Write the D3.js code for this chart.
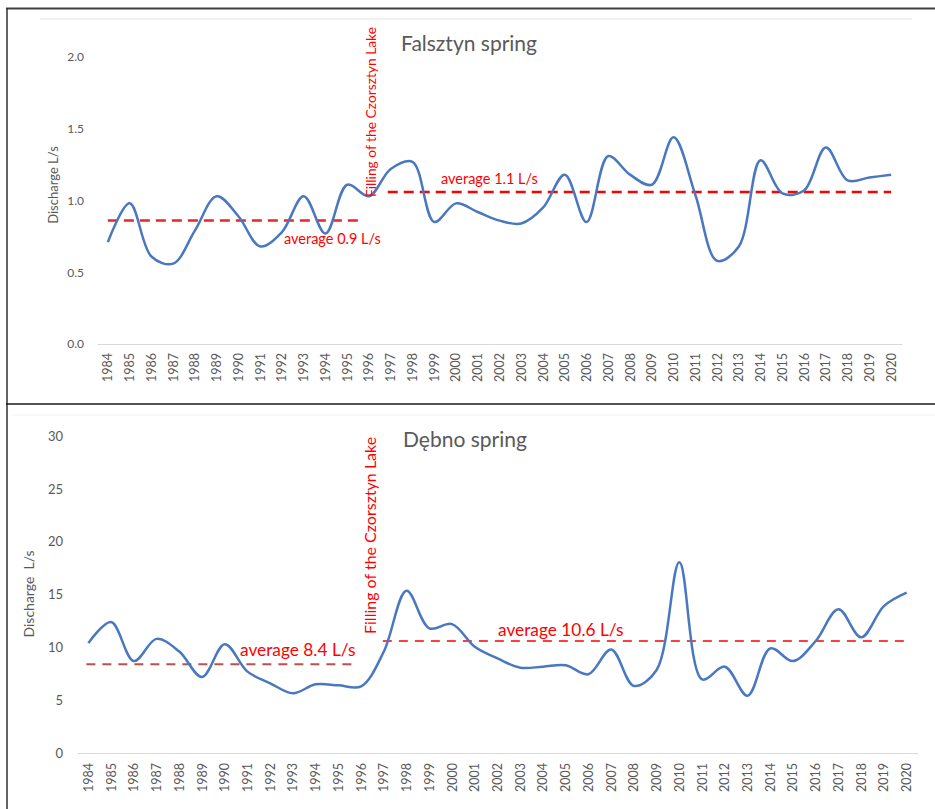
<!DOCTYPE html>
<html>
<head>
<meta charset="utf-8">
<script src="https://cdn.jsdelivr.net/npm/d3@7"></script>
<style>
  html, body { margin: 0; padding: 0; background: #fff; }
  svg { display: block; font-family: Lato, "Open Sans", sans-serif; }
</style>
</head>
<body>
<svg id="chart" width="935" height="809"></svg>
<script>
// Years of observation
const years = d3.range(1984, 2021).map(String);

// Falsztyn spring discharge, L/s
const falsztynValues = [
  0.71, 0.98, 0.61, 0.56, 0.79, 1.03, 0.89, 0.68, 0.78, 1.03,
  0.77, 1.11, 1.03, 1.22, 1.27, 0.85, 0.98, 0.92, 0.86, 0.84,
  0.95, 1.18, 0.85, 1.31, 1.18, 1.11, 1.44, 1.04, 0.58, 0.68,
  1.28, 1.05, 1.07, 1.37, 1.14, 1.16, 1.18
];

// Dębno spring discharge, L/s
const debnoValues = [
  10.4, 12.4, 8.7, 10.8, 9.6, 7.2, 10.3, 7.7, 6.6, 5.65,
  6.5, 6.4, 6.3, 9.6, 15.35, 11.8, 12.2, 10.05, 8.95, 8.07,
  8.17, 8.3, 7.45, 9.8, 6.35, 7.85, 18.05, 6.97, 8.17, 5.42,
  9.9, 8.7, 10.6, 13.6, 10.95, 13.9, 15.17
];

// Mean discharge before and after the reservoir was filled
const falsztynAverages = [0.86, 1.06];
const debnoAverages = [8.4, 10.6];

// Axis ticks
const falsztynTicks = [0, 0.5, 1.0, 1.5, 2.0];
const debnoTicks = [0, 5, 10, 15, 20, 25, 30];

const firstPeriodEnd = "1996";
const secondPeriodStart = "1997";
const eventLabel = "Filling of the Czorsztyn Lake";

const svg = d3.select("#chart");
const grey = "#595959";
const red = "#ff0000";
const blue = "#4a78c0";

// Panel frames
svg.append("line").attr("x1", 6).attr("x2", 935).attr("y1", 8.5).attr("y2", 8.5)
  .attr("stroke", "#404040").attr("stroke-width", 2);
svg.append("line").attr("x1", 7).attr("x2", 7).attr("y1", 8).attr("y2", 809)
  .attr("stroke", "#303030").attr("stroke-width", 1.5);
svg.append("line").attr("x1", 6).attr("x2", 935).attr("y1", 404).attr("y2", 404)
  .attr("stroke", "#1a1a1a").attr("stroke-width", 1.5);

function drawPanel(cfg) {
  const g = svg.append("g");

  const x = d3.scaleBand().domain(years).range(cfg.xRange);
  const cx = d => x(d) + x.bandwidth() / 2;
  const y = d3.scaleLinear().domain(cfg.yDomain).range(cfg.yRange);

  // chart-area top edge
  g.append("line")
    .attr("x1", cfg.topLine[0]).attr("x2", cfg.topLine[1])
    .attr("y1", cfg.topLine[2]).attr("y2", cfg.topLine[2])
    .attr("stroke", cfg.topLine[3]).attr("stroke-width", 1);

  // y axis (labels only)
  const yAxis = d3.axisLeft(y).tickValues(cfg.ticks).tickFormat(cfg.tickFormat)
    .tickSize(0).tickPadding(0);
  const ya = g.append("g").attr("transform", `translate(${cfg.yLabelX},0)`).call(yAxis);
  ya.select(".domain").remove();
  ya.selectAll("text").attr("fill", grey).attr("font-size", cfg.yTickSize)
    .attr("font-family", "Lato, sans-serif");

  // x axis
  const xAxis = d3.axisBottom(x).tickSize(0).tickPadding(0);
  const xa = g.append("g").attr("transform", `translate(0,${y(0)})`).call(xAxis);
  xa.select(".domain").attr("stroke", "#d9d9d9").attr("stroke-width", 1);
  xa.selectAll("text")
    .attr("fill", grey).attr("font-size", cfg.xTickSize)
    .attr("font-family", "Lato, sans-serif")
    .attr("text-anchor", "end")
    .attr("dy", null).attr("y", 0)
    .attr("transform", `translate(0,${cfg.xLabelGap}) rotate(-90)`)
    .attr("dominant-baseline", "central");

  // averages
  const [avgBefore, avgAfter] = cfg.averages;
  g.append("line")
    .attr("x1", cx(years[0]) - cfg.leftDashPad).attr("x2", cx(firstPeriodEnd) - cfg.leftDashTrim)
    .attr("y1", y(avgBefore)).attr("y2", y(avgBefore))
    .attr("stroke", cfg.leftDashColor).attr("stroke-width", cfg.leftDashWidth)
    .attr("stroke-dasharray", cfg.dash);
  g.append("line")
    .attr("x1", cx(secondPeriodStart) - cfg.rightDashPad).attr("x2", cx(years[years.length - 1]))
    .attr("y1", y(avgAfter)).attr("y2", y(avgAfter))
    .attr("stroke", red).attr("stroke-width", cfg.rightDashWidth)
    .attr("stroke-dasharray", cfg.dash);

  // discharge curve
  const line = d3.line()
    .x((d, i) => cx(years[i]))
    .y(d => y(d))
    .curve(d3.curveCatmullRom.alpha(0.5));
  g.append("path").datum(cfg.values)
    .attr("d", line).attr("fill", "none")
    .attr("stroke", blue).attr("stroke-width", 2.5)
    .attr("stroke-linejoin", "round");

  // average labels
  const fmt = d3.format(".1f");
  g.append("text")
    .attr("x", cfg.leftLabel[0]).attr("y", cfg.leftLabel[1])
    .attr("fill", red).attr("font-size", cfg.avgSize)
    .text(`average ${fmt(avgBefore)} L/s`);
  g.append("text")
    .attr("x", cfg.rightLabel[0]).attr("y", cfg.rightLabel[1])
    .attr("fill", red).attr("font-size", cfg.avgSize)
    .text(`average ${fmt(avgAfter)} L/s`);

  // event marker text
  g.append("text")
    .attr("transform", `translate(${cfg.eventPos[0]},${cfg.eventPos[1]}) rotate(-90)`)
    .attr("fill", red).attr("font-size", cfg.eventSize)
    .text(eventLabel);

  // title
  g.append("text")
    .attr("x", cfg.titlePos[0]).attr("y", cfg.titlePos[1])
    .attr("fill", grey).attr("font-size", cfg.titleSize)
    .text(cfg.title);

  // y axis title
  g.append("text")
    .attr("transform", `translate(${cfg.yTitlePos[0]},${cfg.yTitlePos[1]}) rotate(-90)`)
    .attr("text-anchor", "middle")
    .attr("fill", grey).attr("font-size", cfg.yTitleSize)
    .attr("xml:space", "preserve")
    .text(cfg.yTitle);
}

drawPanel({
  title: "Falsztyn spring",
  values: falsztynValues,
  averages: falsztynAverages,
  ticks: falsztynTicks,
  tickFormat: d3.format(".1f"),
  xRange: [97, 902],
  yDomain: [0, 2.0],
  yRange: [344, 57],
  topLine: [40, 912, 19, "#e3e3e3"],
  yLabelX: 84,
  yTickSize: 12,
  xTickSize: 12.5,
  xLabelGap: 9,
  leftDashPad: 0, leftDashTrim: 7, rightDashPad: 3,
  leftDashColor: "#e8262a", leftDashWidth: 2.5, rightDashWidth: 2.5,
  dash: "10,6",
  leftLabel: [284, 244], rightLabel: [441, 184],
  avgSize: 14.5,
  eventPos: [376, 197], eventSize: 13.8,
  titlePos: [401, 51], titleSize: 21,
  yTitle: "Discharge L/s", yTitlePos: [58, 185], yTitleSize: 13
});

drawPanel({
  title: "Dębno spring",
  values: debnoValues,
  averages: debnoAverages,
  ticks: debnoTicks,
  tickFormat: d3.format("d"),
  xRange: [77, 918],
  yDomain: [0, 30],
  yRange: [753, 436],
  topLine: [12, 935, 415, "#f3f3f3"],
  yLabelX: 63,
  yTickSize: 13,
  xTickSize: 12.5,
  xLabelGap: 10,
  leftDashPad: 2, leftDashTrim: 3, rightDashPad: 1,
  leftDashColor: "#c0504d", leftDashWidth: 2, rightDashWidth: 1.5,
  dash: "9,7",
  leftLabel: [240, 656], rightLabel: [498, 636],
  avgSize: 17.3,
  eventPos: [376, 634], eventSize: 16,
  titlePos: [403, 447], titleSize: 21,
  yTitle: "Discharge  L/s", yTitlePos: [34, 594], yTitleSize: 14
});
</script>
</body>
</html>
